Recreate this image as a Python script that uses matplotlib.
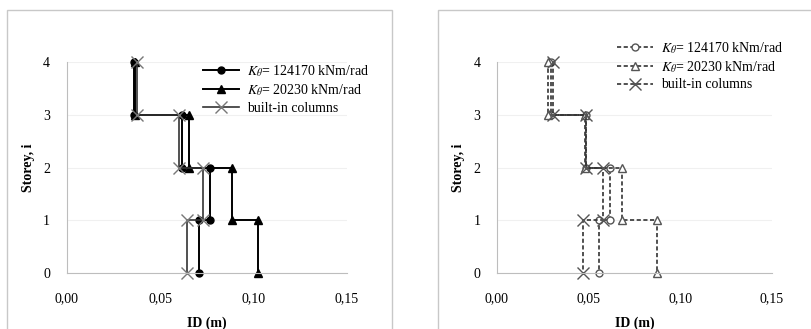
import matplotlib.pyplot as plt
from matplotlib.patches import Rectangle
from matplotlib.ticker import FuncFormatter

plt.rcParams['font.family'] = 'Liberation Serif'
plt.rcParams['mathtext.fontset'] = 'stix'

storey = [4, 3, 3, 2, 2, 1, 1, 0]

# left panel
id_k1_a = [0.0362, 0.0362, 0.0615, 0.0615, 0.0765, 0.0765, 0.0708, 0.0708]
id_k2_a = [0.0365, 0.0365, 0.0654, 0.0654, 0.0883, 0.0883, 0.1025, 0.1025]
id_bi_a = [0.0375, 0.0375, 0.0603, 0.0603, 0.0728, 0.0728, 0.0645, 0.0645]

# right panel
id_k1_b = [0.0296, 0.0296, 0.0487, 0.0487, 0.0615, 0.0615, 0.0555, 0.0555]
id_k2_b = [0.0278, 0.0278, 0.0478, 0.0478, 0.0684, 0.0684, 0.0873, 0.0873]
id_bi_b = [0.0305, 0.0305, 0.0487, 0.0487, 0.0578, 0.0578, 0.0470, 0.0470]

lab_k1 = r'$K_\theta$= 124170 kNm/rad'
lab_k2 = r'$K_\theta$= 20230 kNm/rad'
lab_bi = 'built-in columns'

fig = plt.figure(figsize=(8.11, 3.29), dpi=100)

# panel frames
fig.patches.append(Rectangle((7/811, -0.1), 385/811, 1.1 - 10/329, transform=fig.transFigure,
                             fill=False, edgecolor='#c8c8c8', lw=1))
fig.patches.append(Rectangle((438/811, -0.1), 0.5, 1.1 - 10/329, transform=fig.transFigure,
                             fill=False, edgecolor='#c8c8c8', lw=1))

ax1 = fig.add_axes([0.0822, 0.171, 0.3457, 0.6395])
ax2 = fig.add_axes([0.6128, 0.171, 0.3390, 0.6395])

ax1.plot(id_k1_a, storey, '-', color='black', lw=1.4, marker='o', ms=5, label=lab_k1)
ax1.plot(id_k2_a, storey, '-', color='black', lw=1.4, marker='^', ms=6, label=lab_k2)
ax1.plot(id_bi_a, storey, '-', color='#333333', lw=1.2, marker='x', ms=8,
         mec='#777777', mew=1.0, label=lab_bi)

ax2.plot(id_k1_b, storey, '--', color='#333333', lw=1.2, dashes=(2.5, 1.5), marker='o',
         ms=5, mfc='white', mec='#555555', label=lab_k1)
ax2.plot(id_k2_b, storey, '--', color='#333333', lw=1.2, dashes=(2.5, 1.5), marker='^',
         ms=6, mfc='white', mec='#555555', label=lab_k2)
ax2.plot(id_bi_b, storey, '--', color='#333333', lw=1.2, dashes=(2.5, 1.5), marker='x',
         ms=8, mec='#555555', mew=1.0, label=lab_bi)

fmt = FuncFormatter(lambda v, p: ('%.2f' % v).replace('.', ','))
for ax in (ax1, ax2):
    ax.set_xlim(0, 0.15)
    ax.set_ylim(0, 4)
    ax.set_xticks([0, 0.05, 0.10, 0.15])
    ax.set_yticks([0, 1, 2, 3, 4])
    ax.xaxis.set_major_formatter(fmt)
    ax.tick_params(length=0, labelsize=10, pad=14)
    ax.tick_params(axis='y', pad=12)
    for s in ['top', 'right']:
        ax.spines[s].set_visible(False)
    for s in ['left', 'bottom']:
        ax.spines[s].set_color('#bdbdbd')
    ax.grid(axis='y', color='#f0f0f0', lw=0.8)
    ax.set_axisbelow(True)
    ax.set_xlabel('ID (m)', fontweight='bold', fontsize=10, labelpad=8)
    ax.set_ylabel('Storey, i', fontweight='bold', fontsize=10, labelpad=6)
    for ln in ax.lines:
        ln.set_clip_on(False)

ax1.legend(loc='upper left', bbox_to_anchor=(0.46, 1.03), frameon=False, fontsize=10,
           handlelength=2.6, handletextpad=0.6, labelspacing=0.25, borderpad=0)
ax2.legend(loc='upper left', bbox_to_anchor=(0.41, 1.14), frameon=False, fontsize=10,
           handlelength=2.6, handletextpad=0.6, labelspacing=0.25, borderpad=0)

fig.savefig('out.png', dpi=100)
